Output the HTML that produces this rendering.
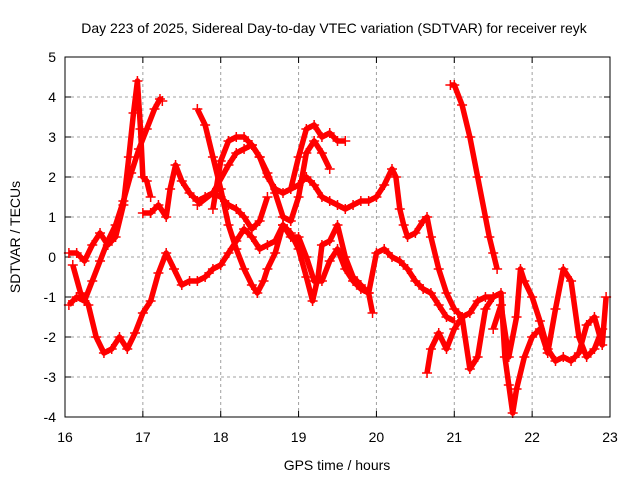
<!DOCTYPE html>
<html><head><meta charset="utf-8"><style>
body{margin:0;background:#fff;}
svg text{font-family:"Liberation Sans",sans-serif;font-size:14px;fill:#000;}
</style></head><body>
<svg id="chart" width="640" height="480">
<rect width="640" height="480" fill="#fff"/>
<text x="334" y="33" text-anchor="middle">Day 223 of 2025, Sidereal Day-to-day VTEC variation (SDTVAR) for receiver reyk</text>
<text x="337" y="470" text-anchor="middle">GPS time / hours</text>
<text transform="translate(20,237) rotate(-90)" text-anchor="middle">SDTVAR / TECUs</text>
<g id="grid"></g><g id="series"></g>
<rect x="65" y="57" width="545" height="360" fill="none" stroke="#000" stroke-width="1"/>
</svg>
<script>
const xTicks=[16,17,18,19,20,21,22,23];
const yTicks=[-4,-3,-2,-1,0,1,2,3,4,5];
const trackA=[[16.05,-1.2],[16.15,-1.0],[16.25,-1.1],[16.35,-0.6],[16.45,-0.1],[16.55,0.4],[16.65,0.8],[16.75,1.4],[16.85,2.1],[16.95,2.7],[17.05,3.2],[17.15,3.7],[17.22,3.95],[17.25,3.9]];
const trackB=[[16.05,0.1],[16.15,0.1],[16.25,-0.1],[16.35,0.3],[16.45,0.6],[16.55,0.3],[16.65,0.5],[16.75,1.3],[16.82,2.5],[16.88,3.6],[16.93,4.4],[16.97,3.2],[17.0,2.0],[17.05,1.9],[17.1,1.5]];
const trackC=[[17.0,1.1],[17.1,1.1],[17.2,1.3],[17.3,1.0],[17.35,1.7],[17.42,2.3],[17.5,1.9],[17.6,1.6],[17.7,1.4],[17.8,1.5],[17.9,1.6],[18.0,1.5],[18.1,1.3],[18.2,1.2],[18.3,1.0],[18.4,0.7],[18.5,0.9],[18.6,1.5]];
const trackD=[[17.7,3.7],[17.8,3.3],[17.9,2.5],[18.0,1.7],[18.1,0.8],[18.2,0.2],[18.3,-0.3],[18.4,-0.7],[18.47,-0.9],[18.55,-0.6],[18.6,-0.3],[18.7,0.1],[18.8,0.8],[18.9,0.6],[19.0,0.2],[19.1,-0.5],[19.18,-1.1],[19.25,-0.5],[19.3,0.3],[19.4,0.4],[19.5,0.8],[19.6,0.0],[19.7,-0.5],[19.8,-0.7],[19.9,-0.9],[19.95,-1.4]];
const trackE=[[17.9,1.2],[18.0,2.4],[18.1,2.9],[18.2,3.0],[18.3,3.0],[18.4,2.8],[18.5,2.5],[18.6,2.0],[18.7,1.7],[18.8,1.6],[18.9,1.7],[19.0,2.5],[19.1,3.2],[19.2,3.3],[19.3,3.0],[19.4,3.1],[19.5,2.9],[19.6,2.9]];
const trackF=[[17.7,1.3],[17.9,1.6],[18.1,2.3],[18.2,2.6],[18.3,2.7],[18.4,2.8],[18.5,2.5],[18.6,2.1],[18.7,1.6],[18.8,1.0],[18.9,0.9],[19.0,1.5],[19.1,2.6],[19.2,2.9],[19.3,2.6],[19.4,2.2]];
const trackG=[[18.9,1.7],[19.0,1.8],[19.1,2.0],[19.2,1.8],[19.3,1.5],[19.4,1.4],[19.5,1.3],[19.6,1.2],[19.7,1.3],[19.8,1.4],[19.9,1.4],[20.0,1.5],[20.1,1.8],[20.2,2.2],[20.25,2.0],[20.3,1.2],[20.35,0.8],[20.4,0.5],[20.5,0.6],[20.6,0.9],[20.65,1.0],[20.7,0.5],[20.8,-0.3],[20.9,-0.9],[21.0,-1.3],[21.1,-1.5],[21.2,-1.4],[21.3,-1.1],[21.4,-1.0],[21.5,-1.0]];
const trackH=[[16.1,-0.2],[16.2,-0.9],[16.3,-1.2],[16.4,-2.0],[16.5,-2.4],[16.6,-2.3],[16.7,-2.0],[16.8,-2.3],[16.9,-1.9],[17.0,-1.4],[17.1,-1.1],[17.2,-0.4],[17.3,0.1],[17.4,-0.3],[17.5,-0.7],[17.6,-0.6],[17.7,-0.6],[17.8,-0.5],[17.9,-0.3],[18.0,-0.2],[18.1,0.1],[18.2,0.4],[18.3,0.7],[18.4,0.5],[18.5,0.2],[18.6,0.3],[18.7,0.4],[18.8,0.8],[18.9,0.5],[19.0,0.5],[19.1,0.0],[19.2,-0.6],[19.3,-0.6],[19.4,-0.1],[19.5,0.2],[19.6,-0.3],[19.7,-0.6],[19.8,-0.8],[19.9,-0.9],[20.0,0.1],[20.1,0.2],[20.2,0.0],[20.3,-0.1],[20.4,-0.3],[20.5,-0.6],[20.6,-0.8],[20.7,-0.9],[20.8,-1.2],[20.9,-1.5],[21.0,-1.6]];
const trackJ=[[20.95,4.3],[21.0,4.3],[21.1,3.8],[21.2,3.0],[21.3,2.0],[21.4,1.0],[21.45,0.5],[21.5,0.1],[21.55,-0.3]];
const trackK=[[20.65,-2.9],[20.7,-2.3],[20.8,-1.9],[20.9,-2.3],[21.0,-1.8],[21.1,-1.5],[21.2,-2.8],[21.3,-2.5],[21.4,-1.3],[21.5,-1.0],[21.6,-0.9],[21.65,-2.5],[21.7,-3.2],[21.75,-3.9],[21.8,-3.3],[21.9,-2.5],[22.0,-2.0],[22.1,-1.8],[22.2,-2.4],[22.3,-1.3],[22.4,-0.3],[22.5,-0.6],[22.6,-2.0],[22.7,-2.5],[22.8,-2.3],[22.9,-1.8]];
const trackL=[[21.5,-1.8],[21.6,-1.2],[21.7,-2.5],[21.8,-1.5],[21.85,-0.3],[21.9,-0.6],[22.0,-1.0],[22.1,-1.6],[22.2,-2.3],[22.3,-2.6],[22.4,-2.5],[22.5,-2.6],[22.6,-2.4],[22.7,-1.7],[22.8,-1.5],[22.9,-2.2],[22.95,-1.0]];
const tracks=[trackA,trackB,trackC,trackD,trackE,trackF,trackG,trackH,trackJ,trackK,trackL];

const NS="http://www.w3.org/2000/svg";
const X0=65,X1=610,Y0=417,Y1=57;
function xs(t){return X0+(t-16)/7*(X1-X0);}
function ys(v){return Y0-(v+4)/9*(Y0-Y1);}
const grid=document.getElementById('grid');
xTicks.forEach(t=>{
  const x=xs(t);
  if(t>16&&t<23){const l=document.createElementNS(NS,'line');l.setAttribute('x1',x);l.setAttribute('x2',x);l.setAttribute('y1',Y0);l.setAttribute('y2',Y1);l.setAttribute('stroke','#a0a0a0');l.setAttribute('stroke-dasharray','3,3');
  
  grid.appendChild(l);}
  const k=document.createElementNS(NS,'line');k.setAttribute('x1',x);k.setAttribute('x2',x);k.setAttribute('y1',Y0);k.setAttribute('y2',Y0-6);k.setAttribute('stroke','#000');grid.appendChild(k);
  const k2=document.createElementNS(NS,'line');k2.setAttribute('x1',x);k2.setAttribute('x2',x);k2.setAttribute('y1',Y1);k2.setAttribute('y2',Y1+6);k2.setAttribute('stroke','#000');grid.appendChild(k2);
  const tx=document.createElementNS(NS,'text');tx.setAttribute('x',x);tx.setAttribute('y',442);tx.setAttribute('text-anchor','middle');tx.textContent=t;
  
  grid.appendChild(tx);
});
yTicks.forEach(v=>{
  const y=ys(v);
  if(v>-4&&v<5){const l=document.createElementNS(NS,'line');l.setAttribute('x1',X0);l.setAttribute('x2',X1);l.setAttribute('y1',y);l.setAttribute('y2',y);l.setAttribute('stroke','#a0a0a0');l.setAttribute('stroke-dasharray','3,3');
  
  grid.appendChild(l);}
  const k=document.createElementNS(NS,'line');k.setAttribute('x1',X0);k.setAttribute('x2',X0+6);k.setAttribute('y1',y);k.setAttribute('y2',y);k.setAttribute('stroke','#000');grid.appendChild(k);
  const k2=document.createElementNS(NS,'line');k2.setAttribute('x1',X1);k2.setAttribute('x2',X1-6);k2.setAttribute('y1',y);k2.setAttribute('y2',y);k2.setAttribute('stroke','#000');grid.appendChild(k2);
  const tx=document.createElementNS(NS,'text');tx.setAttribute('x',X0-9);tx.setAttribute('y',y+5);tx.setAttribute('text-anchor','end');tx.textContent=v;
  
  grid.appendChild(tx);
});
const ser=document.getElementById('series');
tracks.forEach(tr=>{
  const g=document.createElementNS(NS,'g');
  
  
  const pl=document.createElementNS(NS,'polyline');
  pl.setAttribute('points',tr.map(p=>xs(p[0])+','+ys(p[1])).join(' '));
  pl.setAttribute('fill','none');pl.setAttribute('stroke','#f00');pl.setAttribute('stroke-width','5.5');pl.setAttribute('stroke-linejoin','round');
  g.appendChild(pl);
  tr.forEach(p=>{
    const x=xs(p[0]),y=ys(p[1]);
    const m=document.createElementNS(NS,'path');
    m.setAttribute('d',`M${x-5},${y}H${x+5}M${x},${y-5}V${y+5}`);
    m.setAttribute('stroke','#f00');m.setAttribute('stroke-width','1.5');
    
    
    g.appendChild(m);
  });
  ser.appendChild(g);
});
</script>
</body></html>
